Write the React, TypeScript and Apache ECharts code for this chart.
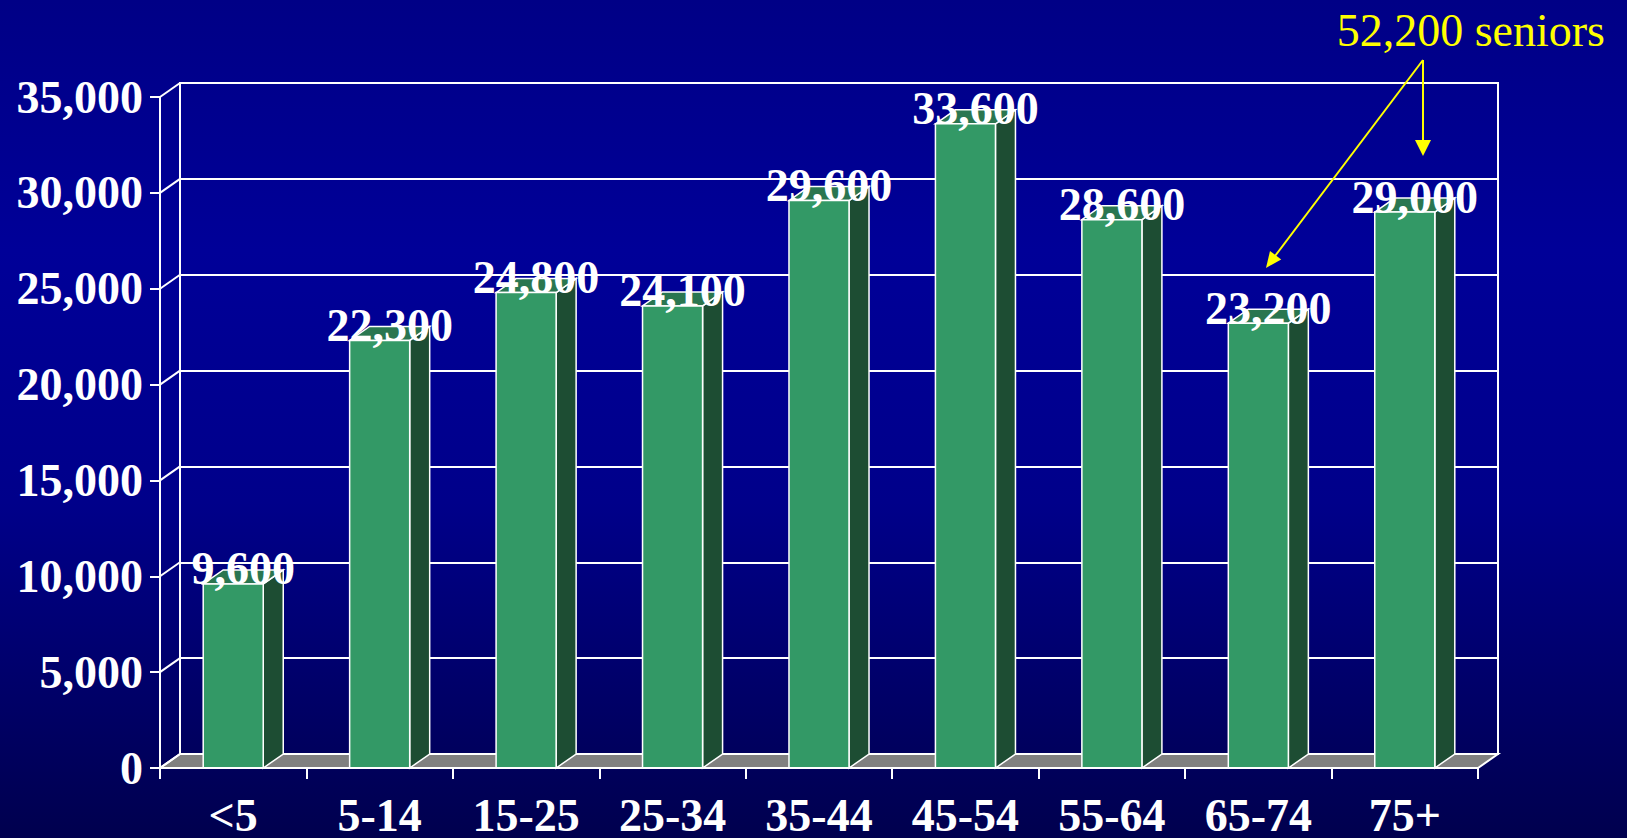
import React, { useEffect, useRef } from "react";
import * as echarts from "echarts";

const categories = ["<5", "5-14", "15-25", "25-34", "35-44", "45-54", "55-64", "65-74", "75+"];
const population = [9600, 22300, 24800, 24100, 29600, 33600, 28600, 23200, 29000];
const yTicks = [0, 5000, 10000, 15000, 20000, 25000, 30000, 35000];
const annotationText = "52,200 seniors";

const FONT = '"Liberation Serif", "Times New Roman", Times, serif';
const DX = 20;
const DY = -14;
const fmt = (v: number) => v.toLocaleString("en-US");

export default function App() {
  const ref = useRef<HTMLDivElement>(null);
  useEffect(() => {
    if (!ref.current) return;
    const chart = echarts.init(ref.current, undefined, { renderer: "svg" });

    const floorSeries = {
      type: "custom",
      xAxisIndex: 0,
      yAxisIndex: 0,
      z: 2,
      silent: true,
      data: [[0, 0]],
      renderItem: (params: any, api: any) => {
        const cs = params.coordSys;
        const base = api.coord([0, 0])[1];
        const x0 = cs.x;
        const x1 = cs.x + cs.width;
        return {
          type: "polygon",
          shape: {
            points: [
              [x0, base],
              [x1, base],
              [x1 + DX, base + DY],
              [x0 + DX, base + DY],
            ],
          },
          style: { fill: "#808080", stroke: "#ffffff", lineWidth: 2 },
        };
      },
    };

    const wallSeries = {
      type: "custom",
      xAxisIndex: 0,
      yAxisIndex: 0,
      z: 2,
      silent: true,
      data: yTicks.map((v) => [0, v]),
      renderItem: (params: any, api: any) => {
        const cs = params.coordSys;
        const y = api.coord([0, api.value(1)])[1];
        return {
          type: "line",
          shape: { x1: cs.x, y1: y, x2: cs.x + DX, y2: y + DY },
          style: { stroke: "#ffffff", lineWidth: 2 },
        };
      },
    };

    const barSeries = {
      type: "custom",
      xAxisIndex: 0,
      yAxisIndex: 0,
      z: 5,
      silent: true,
      data: population.map((v, i) => [i, v]),
      renderItem: (params: any, api: any) => {
        const idx = api.value(0);
        const val = api.value(1);
        const top = api.coord([idx, val]);
        const base = api.coord([idx, 0]);
        const band = api.size([1, 0])[0];
        const w = band * 0.41;
        const xl = top[0] - w / 2;
        const xr = top[0] + w / 2;
        const yt = top[1];
        const yb = base[1];
        const stroke = { stroke: "#ffffff", lineWidth: 1.5 };
        return {
          type: "group",
          children: [
            {
              type: "polygon",
              shape: { points: [[xr, yt], [xr + DX, yt + DY], [xr + DX, yb + DY], [xr, yb]] },
              style: { fill: "#1d4d33", ...stroke },
            },
            {
              type: "polygon",
              shape: { points: [[xl, yt], [xl + DX, yt + DY], [xr + DX, yt + DY], [xr, yt]] },
              style: { fill: "#2a7650", ...stroke },
            },
            {
              type: "rect",
              shape: { x: xl, y: yt, width: w, height: yb - yt },
              style: { fill: "#339966", ...stroke },
            },
            {
              type: "text",
              x: top[0] + DX / 2,
              y: yt - 15,
              style: {
                text: fmt(val),
                fill: "#ffffff",
                font: `bold 46px ${FONT}`,
                align: "center",
                verticalAlign: "middle",
              },
            },
          ],
        };
      },
    };

    const option: any = {
      animation: false,
      backgroundColor: {
        type: "linear",
        x: 0,
        y: 0,
        x2: 0,
        y2: 1,
        colorStops: [
          { offset: 0, color: "#000086" },
          { offset: 0.3, color: "#000098" },
          { offset: 0.6, color: "#00008a" },
          { offset: 1, color: "#00004e" },
        ],
      },
      grid: [
        { left: 160, right: 149, top: 97, bottom: 70 },
        {
          left: 180,
          right: 129,
          top: 83,
          bottom: 84,
          show: true,
          borderColor: "#ffffff",
          borderWidth: 2,
          backgroundColor: "transparent",
        },
      ],
      xAxis: [
        {
          gridIndex: 0,
          type: "category",
          data: categories,
          boundaryGap: true,
          axisLine: { show: true, lineStyle: { color: "#ffffff", width: 2 } },
          axisTick: { show: true, length: 11, alignWithLabel: false, lineStyle: { color: "#ffffff", width: 2 } },
          axisLabel: {
            color: "#ffffff",
            fontFamily: FONT,
            fontWeight: "bold",
            fontSize: 46,
            margin: 24,
            interval: 0,
          },
          splitLine: { show: false },
          z: 6,
        },
        {
          gridIndex: 1,
          type: "category",
          data: categories,
          show: false,
        },
      ],
      yAxis: [
        {
          gridIndex: 0,
          type: "value",
          min: 0,
          max: 35000,
          interval: 5000,
          axisLine: { show: true, lineStyle: { color: "#ffffff", width: 2 } },
          axisTick: { show: true, length: 10, lineStyle: { color: "#ffffff", width: 2 } },
          axisLabel: {
            color: "#ffffff",
            fontFamily: FONT,
            fontWeight: "bold",
            fontSize: 46,
            margin: 17,
            formatter: (v: number) => fmt(v),
          },
          splitLine: { show: false },
        },
        {
          gridIndex: 1,
          type: "value",
          min: 0,
          max: 35000,
          interval: 5000,
          axisLine: { show: false },
          axisTick: { show: false },
          axisLabel: { show: false },
          splitLine: { show: true, lineStyle: { color: "#ffffff", width: 2 } },
        },
      ],
      series: [floorSeries, wallSeries, barSeries],
      graphic: [
        {
          type: "text",
          x: 1605,
          y: 30,
          z: 100,
          style: {
            text: annotationText,
            fill: "#ffff00",
            font: `46px ${FONT}`,
            align: "right",
            verticalAlign: "middle",
          },
        },
        {
          type: "polyline",
          z: 100,
          shape: { points: [[1423, 60], [1423, 142]] },
          style: { stroke: "#ffff00", lineWidth: 2, fill: "none" },
        },
        {
          type: "polygon",
          z: 100,
          shape: { points: [[1415, 140], [1431, 140], [1423, 156]] },
          style: { fill: "#ffff00" },
        },
        {
          type: "polyline",
          z: 100,
          shape: { points: [[1423, 60], [1275, 256]] },
          style: { stroke: "#ffff00", lineWidth: 2, fill: "none" },
        },
        {
          type: "polygon",
          z: 100,
          shape: { points: [[1266, 268], [1281.2, 259.4], [1270.0, 251.0]] },
          style: { fill: "#ffff00" },
        },
      ],
    };

    chart.setOption(option);
    return () => chart.dispose();
  }, []);

  return (
    <div
      ref={ref}
      style={{ position: "fixed", left: 0, top: 0, width: "1627px", height: "838px" }}
    />
  );
}
